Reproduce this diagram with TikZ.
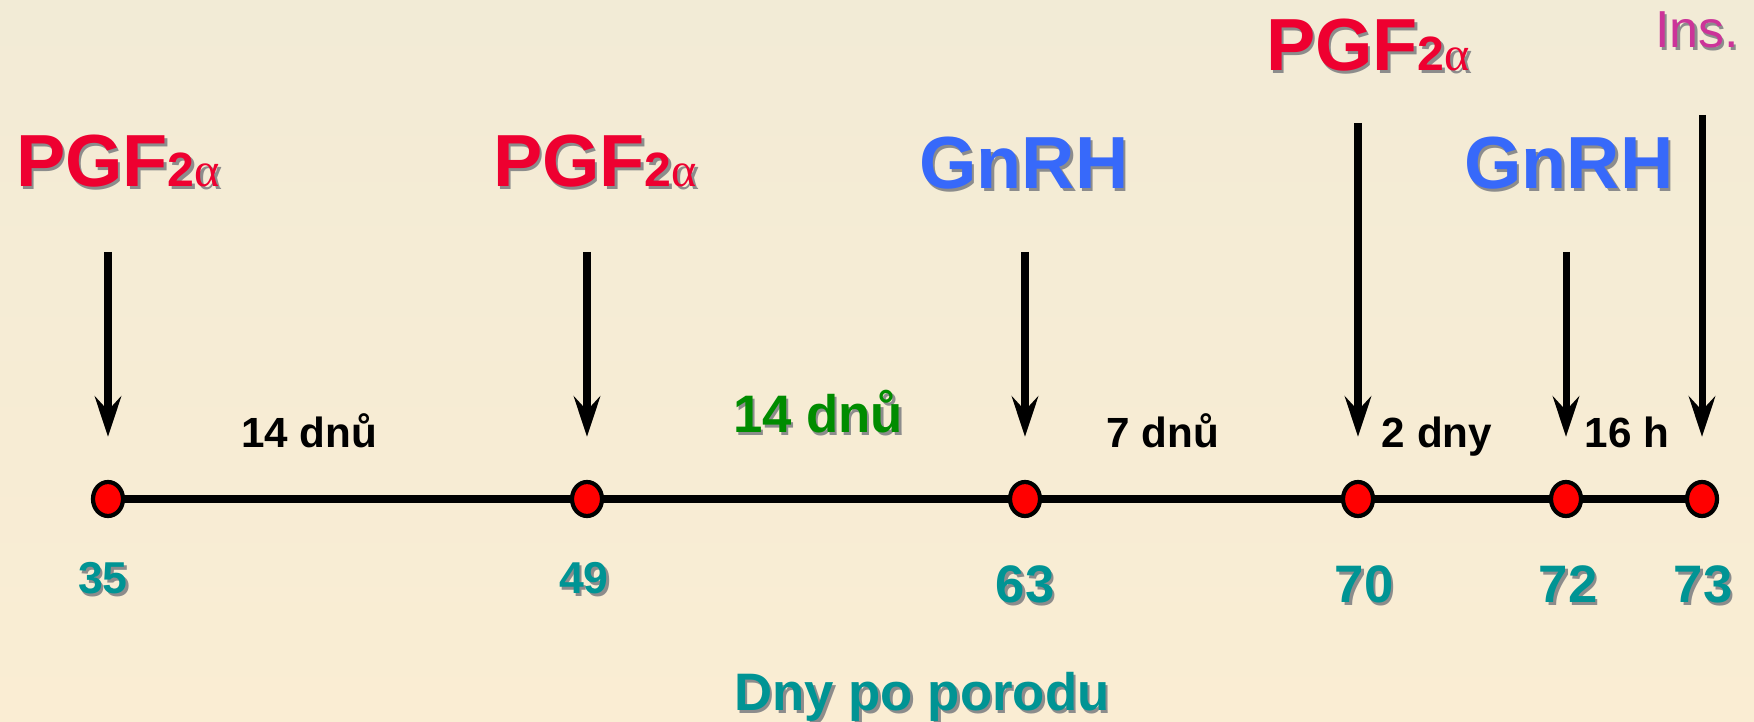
\documentclass[tikz,border=0pt]{standalone}
\usepackage{fontspec}
\setmainfont{Liberation Sans}
\newfontfamily\alphafont{Liberation Serif}
\usepackage{xcolor}
\usepackage{tikz}
\usetikzlibrary{arrows.meta}
\usetikzlibrary{shapes.geometric,positioning,backgrounds}

\definecolor{bgtop}{RGB}{242,235,214}
\definecolor{bgbot}{RGB}{250,237,211}
\definecolor{pgfred}{RGB}{238,0,48}
\definecolor{gnblue}{RGB}{55,105,250}
\definecolor{wgreen}{RGB}{0,140,0}
\definecolor{dayteal}{RGB}{0,148,148}
\definecolor{insmag}{RGB}{204,51,153}

% text with a soft drop shadow
\newcommand\shd[1]{\rlap{\kern0.7pt\raisebox{-0.7pt}{\color{black!45}#1}}#1}
\newcommand\pgftwoa{PGF{\fontsize{13.7}{14}\selectfont 2{\alphafont\mdseries α}}}

\tikzset{
  dot/.style={ellipse,draw,fill=red,line width=1.2pt,minimum width=0.30cm,minimum height=0.34cm,inner sep=0pt},
  axis/.style={line width=2pt},
  dose/.style={line width=2pt,-{Stealth[length=11.5pt,width=7.5pt,inset=4pt]}},
  drug/.style={anchor=base,inner sep=0pt,font=\fontsize{21}{24}\selectfont\bfseries},
  ins/.style={anchor=base,inner sep=0pt,text=insmag,font=\fontsize{14.8}{16}\selectfont},
  gap/.style={anchor=base,inner sep=0pt,font=\fontsize{12}{14}\selectfont\bfseries},
  day/.style={anchor=base,inner sep=0pt,text=dayteal}
}

\begin{document}
\begin{tikzpicture}[x=0.01cm,y=-0.01cm]
  \useasboundingbox (0,0) rectangle (1754,722);
  \begin{pgfonlayer}{background}
    \shade[top color=bgtop,bottom color=bgbot] (0,0) rectangle (1754,722);
  \end{pgfonlayer}
  % time line
  \foreach \d/\x in {35/108,49/587,63/1025,70/1358,72/1566,73/1702}{
    \node[dot] (d\d) at (\x,499) {};
  }
  \begin{pgfonlayer}{background}
    \draw[axis] (d35.center) -- (d73.center);
  \end{pgfonlayer}
  \foreach \d/\x/\y/\s in {35/103/594/12.7,49/584/594/12.7,63/1025/603/15,70/1364/603/15,72/1568/603/15,73/1703/603/15}{
    \node[day,font=\fontsize{\s}{\s}\selectfont\bfseries] (n\d) at (\x,\y) {\shd{\d}};
  }
  \foreach \d/\y in {35/252,49/252,63/252,70/123,72/252,73/115}{
    \coordinate (a\d) at (d\d |- 0,\y);
    \draw[dose] (a\d) -- ([yshift=0.43cm]d\d.north);
  }
  % what is given
  \node[drug,text=pgfred] (p35) at (118,187) {\shd{\pgftwoa}};
  \node[drug,text=pgfred] (p49) at (595,187) {\shd{\pgftwoa}};
  \node[drug,text=gnblue] (g63) at (1024,189) {\shd{GnRH}};
  \node[drug,text=pgfred] (p70) at (1368,71) {\shd{\pgftwoa}};
  \node[drug,text=gnblue] (g72) at (1569,189) {\shd{GnRH}};
  \node[ins] (i73) at (1697,48) {\shd{Ins.}};
  % intervals
  \foreach \n/\x/\t in {i1/309/14 dnů,i3/1163/7 dnů,i4/1437/2 dny,i5/1627/16 h}{
    \node[gap] (\n) at (\x,448) {\t};
  }
  \node[gap,text=wgreen,font=\fontsize{15}{17}\selectfont\bfseries] (i2) at (818,433) {\shd{14 dnů}};
  \node[day,font=\fontsize{15}{17}\selectfont\bfseries] (title) at (922,711) {\shd{Dny po porodu}};
\end{tikzpicture}
\end{document}
